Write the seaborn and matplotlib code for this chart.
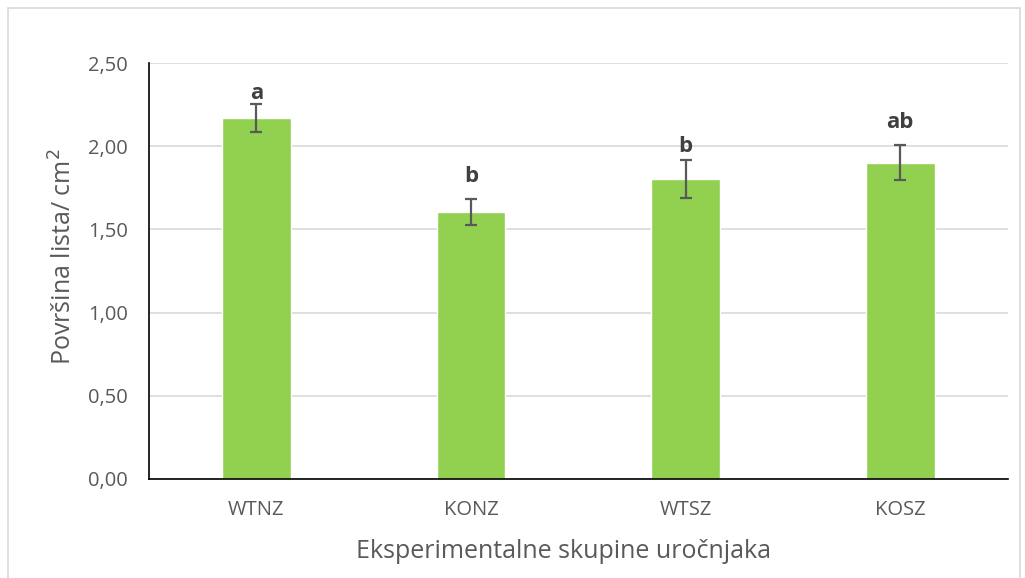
import numpy as np
import pandas as pd
import matplotlib
matplotlib.use("Agg")
import matplotlib.pyplot as plt
import seaborn as sns

# data
groups = ["WTNZ", "KONZ", "WTSZ", "KOSZ"]
area = [2.17, 1.605, 1.805, 1.90]
err = [0.085, 0.08, 0.115, 0.105]
letters = ["a", "b", "b", "ab"]
letter_y = [2.284, 1.785, 1.965, 2.109]

df = pd.DataFrame({"group": groups, "area": area})

sns.set_style("white")
plt.rcParams["font.family"] = ["Open Sans", "DejaVu Sans"]

fig = plt.figure(figsize=(10.25, 5.78), dpi=100)
ax = fig.add_axes([0.1454, 0.1713, 0.8376, 0.7197])

sns.barplot(data=df, x="group", y="area", color="#92d050", width=0.32,
            saturation=1, ax=ax, zorder=2)
ax.errorbar(range(len(groups)), area, yerr=err, fmt="none",
            ecolor="#595959", elinewidth=1.6, capsize=4.5, capthick=1.6, zorder=3)

for i, (y, t) in enumerate(zip(letter_y, letters)):
    ax.text(i, y, t, ha="center", va="baseline", fontsize=16,
            fontweight="bold", color="#404040")

ax.set_xlim(-0.5, 3.5)
ax.set_ylim(0, 2.5)
ticks = np.arange(0, 2.51, 0.5)
ax.set_yticks(ticks)
ax.set_yticklabels([f"{v:.2f}".replace(".", ",") for v in ticks])
ax.yaxis.grid(True, color="#d9d9d9", linewidth=1.2, zorder=0)
ax.set_axisbelow(True)

for s in ["top", "right"]:
    ax.spines[s].set_visible(False)
for s in ["left", "bottom"]:
    ax.spines[s].set_color("black")
    ax.spines[s].set_linewidth(1.2)

ax.tick_params(axis="both", length=0, labelsize=14.5, colors="#595959")
ax.tick_params(axis="x", pad=15)
ax.tick_params(axis="y", pad=15)

ax.set_xlabel("Eksperimentalne skupine uročnjaka", fontsize=18, color="#595959", labelpad=14)
ax.set_ylabel("Površina lista/ cm$^2$", fontsize=18, color="#595959", labelpad=8)
ax.xaxis.label.set_x(0.4825)
ax.yaxis.label.set_y(0.534)

# outer chart frame
fig.patches.append(plt.Rectangle((8 / 1025, -0.01), 1012 / 1025, 1 - 8 / 578 + 0.01,
                                 transform=fig.transFigure, fill=False,
                                 edgecolor="#d9d9d9", linewidth=1.2))

fig.savefig("out.png", dpi=100)
